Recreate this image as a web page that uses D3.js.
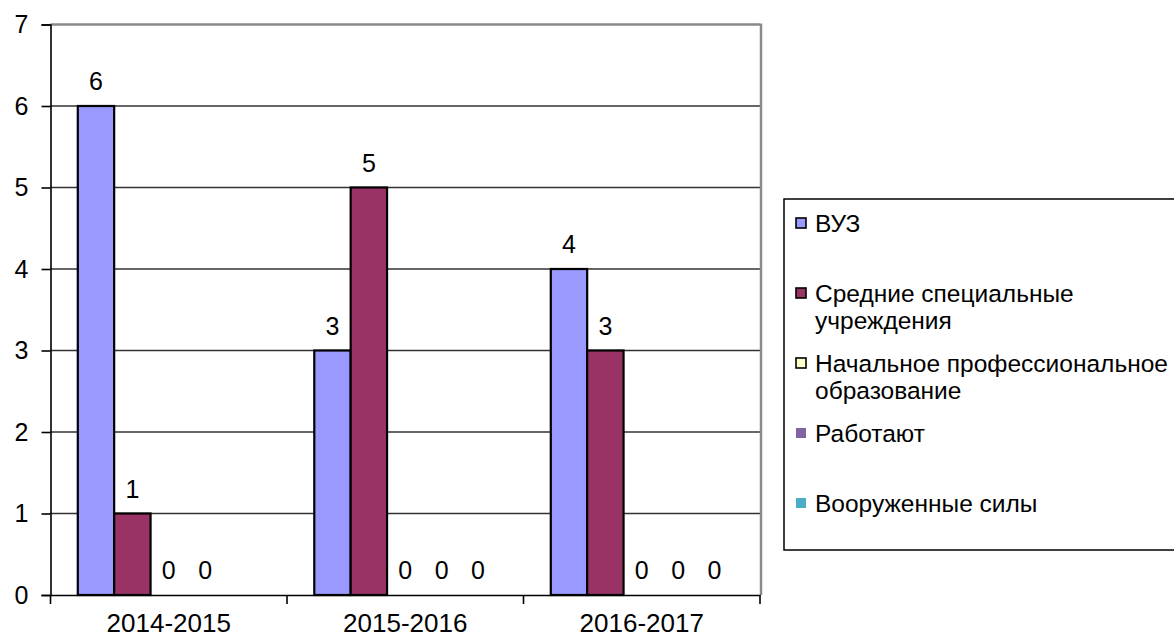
<!DOCTYPE html>
<html>
<head>
<meta charset="utf-8">
<script src="https://cdn.jsdelivr.net/npm/d3@7"></script>
<style>
  body { margin: 0; background: #fff; }
  svg text { font-family: "Liberation Sans", Arial, sans-serif; fill: #000; }
</style>
</head>
<body>
<div id="chart"></div>
<script>
// данные
var years = ["2014-2015", "2015-2016", "2016-2017"];
var seriesNames = ["ВУЗ", "Средние специальные учреждения", "Начальное профессиональное образование", "Работают", "Вооруженные силы"];
var vuz       = [6, 3, 4];
var srednie   = [1, 5, 3];
var nachalnoe = [0, 0, 0];
var rabotayut = [0, 0, 0];
var armiya    = [null, 0, 0];
var yTicks = [0, 1, 2, 3, 4, 5, 6, 7];

var legendLines = [["ВУЗ"], ["Средние специальные", "учреждения"], ["Начальное профессиональное", "образование"], ["Работают"], ["Вооруженные силы"]];
var colors = ["#9999ff", "#993366", "#ffffcc", "#8064a2", "#4bacc6"];
var bordered = [true, true, true, false, false];

var allValues = [vuz, srednie, nachalnoe, rabotayut, armiya];

var W = 1174, H = 639;
var margin = { top: 24.5, left: 50.5, right: 414, bottom: 44 };
var width = 760 - margin.left, height = 595 - margin.top;

var svg = d3.select("#chart").append("svg")
    .attr("width", W).attr("height", H);

var g = svg.append("g")
    .attr("transform", "translate(" + margin.left + "," + margin.top + ")");

var x0 = d3.scaleBand().domain(years).range([0, width]).padding(0);
var x1 = d3.scaleBand().domain(d3.range(seriesNames.length))
    .range([0, x0.bandwidth()]).paddingInner(0).paddingOuter(0.75);
var y = d3.scaleLinear().domain([0, 7]).range([height, 0]);

// сетка
g.selectAll(".grid").data(yTicks.slice(1))
  .enter().append("line")
    .attr("x1", 0).attr("x2", width)
    .attr("y1", d => y(d)).attr("y2", d => y(d))
    .attr("stroke", d => d === 7 ? "#8a8a8a" : "#333")
    .attr("stroke-width", d => d === 7 ? 2.5 : 1.6);

// правая граница
g.append("line")
    .attr("x1", width + 1).attr("x2", width + 1)
    .attr("y1", y(7) - 1).attr("y2", y(0))
    .attr("stroke", "#8a8a8a").attr("stroke-width", 2.5);

// столбцы
var groups = g.selectAll(".grp").data(years).enter().append("g")
    .attr("transform", d => "translate(" + x0(d) + ",0)");

var cells = groups.selectAll(".cell")
    .data((d, i) => allValues.map((s, k) => ({ k: k, v: s[i] })))
    .enter();

cells.filter(d => d.v > 0).append("rect")
    .attr("x", d => x1(d.k))
    .attr("y", d => y(d.v))
    .attr("width", x1.bandwidth())
    .attr("height", d => y(0) - y(d.v))
    .attr("fill", d => colors[d.k])
    .attr("stroke", "#000").attr("stroke-width", 2.2);

cells.filter(d => d.v !== null).append("text")
    .attr("x", d => x1(d.k) + x1.bandwidth() / 2)
    .attr("y", d => y(d.v) - 16)
    .attr("text-anchor", "middle")
    .attr("font-size", "25px")
    .text(d => d.v);

// оси
var yAxis = g.append("g")
    .call(d3.axisLeft(y).tickValues(yTicks).tickSize(9).tickPadding(13).tickFormat(d3.format("d")));
yAxis.select(".domain").attr("stroke", "#000").attr("stroke-width", 1.6);
yAxis.selectAll(".tick line").attr("stroke", "#000").attr("stroke-width", 1.6);
yAxis.selectAll("text").attr("font-size", "25px").attr("font-family", "Liberation Sans, Arial, sans-serif");

var xAxis = g.append("g").attr("transform", "translate(0," + height + ")")
    .call(d3.axisBottom(x0).tickSize(0).tickPadding(19));
xAxis.select(".domain").attr("stroke", "#000").attr("stroke-width", 1.6);
xAxis.selectAll("text").attr("font-size", "26px").attr("font-family", "Liberation Sans, Arial, sans-serif");

// засечки между категориями
g.selectAll(".xt").data(years.map(d => x0(d)).concat([width]))
  .enter().append("line")
    .attr("x1", d => d).attr("x2", d => d)
    .attr("y1", height).attr("y2", height + 9)
    .attr("stroke", "#000").attr("stroke-width", 1.6);

// легенда
var legend = svg.append("g").attr("transform", "translate(784,199)");
legend.append("rect")
    .attr("x", 0).attr("y", 0).attr("width", 420).attr("height", 351)
    .attr("fill", "#fff").attr("stroke", "#000").attr("stroke-width", 1.5);

var item = legend.selectAll(".item").data(legendLines).enter().append("g")
    .attr("transform", (d, i) => "translate(0," + (24 + i * 70) + ")");

item.append("rect")
    .attr("x", 12).attr("y", -5).attr("width", 10).attr("height", 10)
    .attr("fill", (d, i) => colors[i])
    .attr("stroke", (d, i) => bordered[i] ? "#000" : "none")
    .attr("stroke-width", 1.6);

item.selectAll("text").data(d => d).enter().append("text")
    .attr("x", 31)
    .attr("y", (d, j) => j * 27 + 8.5)
    .attr("font-size", "24.5px")
    .text(d => d);
</script>
</body>
</html>
